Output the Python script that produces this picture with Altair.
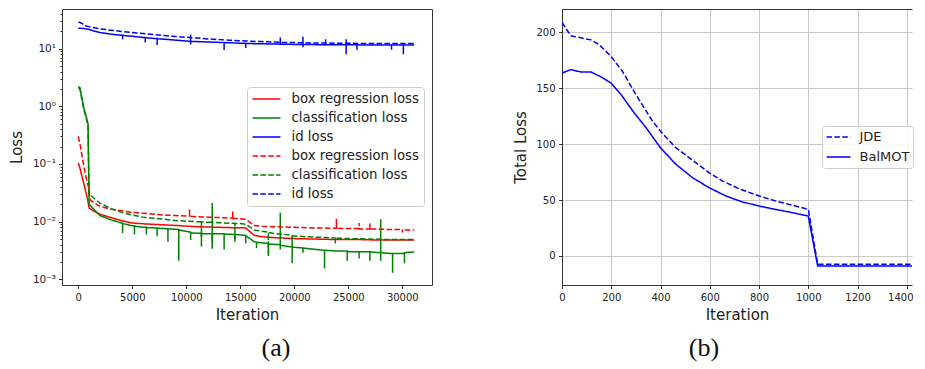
import altair as alt
import pandas as pd

# ---------------- panel (a): losses on a log scale ----------------
box_reg_solid = [(0, 0.104), (150, 0.085), (350, 0.06), (600, 0.039), (850, 0.025), (1000, 0.0173),
                 (1500, 0.015), (2000, 0.0135), (3000, 0.0118), (4000, 0.0104), (5000, 0.0095),
                 (6000, 0.0092), (7000, 0.009), (8000, 0.0088), (9000, 0.0086), (10000, 0.0084),
                 (11000, 0.0082), (12000, 0.0081), (13000, 0.008), (14000, 0.0079), (15500, 0.0078),
                 (16300, 0.0058), (17000, 0.0055), (18000, 0.0053), (19000, 0.0052), (20000, 0.0051),
                 (22000, 0.005), (24000, 0.0049), (26000, 0.0049), (28000, 0.0048), (30000, 0.0048),
                 (31100, 0.0048)]

cls_solid = [(0, 2.2), (150, 2.1), (300, 1.5), (500, 0.95), (700, 0.7), (900, 0.5), (1000, 0.02),
             (1500, 0.016), (2000, 0.0128), (3000, 0.0108), (4000, 0.0095), (4100, 0.0095), (4100, 0.0064),
             (4100, 0.0093), (5000, 0.0085), (5200, 0.0085), (5200, 0.006), (5200, 0.0084), (6000, 0.008),
             (6300, 0.008), (6300, 0.006), (6300, 0.0079), (7000, 0.0078), (7300, 0.0078), (7300, 0.0056),
             (7300, 0.0077), (8000, 0.0076), (8300, 0.0075), (8300, 0.0045), (8300, 0.0075), (9000, 0.0074),
             (9300, 0.0073), (9300, 0.0021), (9300, 0.0072), (10000, 0.0068), (10400, 0.0066), (10400, 0.0048),
             (10400, 0.0064), (11000, 0.0063), (11400, 0.0063), (11400, 0.0037), (11400, 0.0062),
             (12400, 0.0062), (12400, 0.0034), (12400, 0.0062), (13500, 0.0062), (13500, 0.0033),
             (13500, 0.0061), (14500, 0.006), (14500, 0.0045), (14500, 0.006), (15500, 0.0058),
             (15500, 0.0042), (15500, 0.0057), (16300, 0.0045), (16500, 0.0044), (16500, 0.0035),
             (16500, 0.0044), (17000, 0.0043), (17600, 0.0042), (17600, 0.0028), (17600, 0.0041),
             (18700, 0.004), (18700, 0.0143), (18700, 0.0033), (18700, 0.0039), (20000, 0.0036),
             (20800, 0.0035), (20800, 0.0029), (20800, 0.0035), (22000, 0.0033), (22800, 0.0032),
             (22800, 0.00155), (22800, 0.0032), (24000, 0.0031), (24900, 0.0031), (24900, 0.0021),
             (24900, 0.003), (26000, 0.003), (26000, 0.0023), (26000, 0.003), (27000, 0.003),
             (27000, 0.0021), (27000, 0.003), (28000, 0.0029), (28000, 0.011), (28000, 0.0021),
             (28000, 0.0029), (29100, 0.0028), (29100, 0.0013), (29100, 0.0028), (30200, 0.0028),
             (30200, 0.0019), (30200, 0.0029), (31100, 0.003)]

id_solid = [(0, 22.5), (500, 22.3), (1000, 21.5), (1500, 20), (2000, 19), (3000, 17.8), (4000, 17),
            (4100, 17), (4100, 14.5), (4100, 16.9), (5000, 16.3), (6000, 15.6), (6200, 15.5), (6200, 12.7),
            (6200, 15.4), (7000, 15), (7300, 14.9), (7300, 11.5), (7300, 14.8), (8000, 14.5), (9000, 14),
            (10000, 13.5), (10400, 13.4), (10400, 17.5), (10400, 11.8), (10400, 13.3), (11000, 13.2),
            (12000, 13), (13000, 12.8), (13500, 12.7), (13500, 9.4), (13500, 12.7), (14000, 12.6),
            (15000, 12.4), (15500, 12.4), (15500, 10.2), (15500, 12.3), (16000, 12.2), (17000, 12.1),
            (18000, 12), (18700, 12), (18700, 15.5), (18700, 11.9), (19000, 11.9), (20000, 11.8),
            (20800, 11.8), (20800, 16), (20800, 10.5), (20800, 11.8), (22000, 11.7), (22900, 11.7),
            (22900, 14.5), (22900, 11.7), (24000, 11.6), (24800, 11.6), (24800, 14.5), (24800, 8.0),
            (24800, 11.6), (25800, 11.6), (25800, 9.5), (25800, 11.6), (27000, 11.5), (28000, 11.5),
            (29000, 11.5), (29000, 9.5), (29000, 11.5), (30100, 11.5), (30100, 8.0), (30100, 11.5),
            (31100, 11.5)]

box_reg_dashed = [(0, 0.30), (200, 0.2), (400, 0.12), (600, 0.075), (800, 0.05), (950, 0.04), (1100, 0.024),
                  (1500, 0.021), (2000, 0.0185), (3000, 0.0165), (4000, 0.0155), (5000, 0.0145),
                  (6000, 0.014), (7000, 0.0135), (8000, 0.013), (9000, 0.0128), (10000, 0.0125),
                  (10300, 0.0125), (10300, 0.0165), (10300, 0.0124), (11000, 0.0122), (12000, 0.012),
                  (13000, 0.0118), (14300, 0.0115), (14300, 0.015), (14300, 0.0114), (15000, 0.0113),
                  (15500, 0.011), (16300, 0.0086), (17000, 0.0083), (18000, 0.0082), (20000, 0.008),
                  (22000, 0.0078), (23900, 0.0077), (23900, 0.0112), (23900, 0.0077), (25000, 0.0076),
                  (26000, 0.0076), (26000, 0.0095), (26000, 0.0075), (27000, 0.0075), (27000, 0.0093),
                  (27000, 0.0075), (28000, 0.0074), (29000, 0.0073), (30000, 0.0073), (30000, 0.0065),
                  (30000, 0.0072), (31100, 0.0072)]

cls_dashed = [(0, 2.1), (150, 2.0), (300, 1.4), (500, 0.9), (700, 0.65), (900, 0.45), (1000, 0.03),
              (1500, 0.025), (2000, 0.021), (3000, 0.017), (4000, 0.0145), (5000, 0.013), (6000, 0.012),
              (7000, 0.0115), (8000, 0.011), (9000, 0.0105), (10000, 0.0102), (11000, 0.01), (11400, 0.01),
              (11400, 0.0055), (11400, 0.0099), (12000, 0.0098), (12400, 0.0098), (12400, 0.021),
              (12400, 0.0045), (12400, 0.0097), (13000, 0.0096), (14000, 0.0094), (14500, 0.0094),
              (14500, 0.005), (14500, 0.0093), (15000, 0.0093), (15500, 0.009), (16300, 0.0072),
              (17000, 0.0068), (17600, 0.0066), (17600, 0.0025), (17600, 0.0065), (18000, 0.0063),
              (19000, 0.006), (19800, 0.0058), (19800, 0.0019), (19800, 0.0057), (21000, 0.0055),
              (22000, 0.0054), (23000, 0.0053), (23800, 0.0052), (23800, 0.0042), (23800, 0.0052),
              (25000, 0.0051), (27000, 0.005), (29000, 0.0049), (31100, 0.0049)]

id_dashed = [(0, 29), (300, 27.5), (600, 25), (1000, 24), (2000, 22), (3000, 20.8), (4000, 19.8), (5000, 19),
             (6000, 18.2), (7000, 17.5), (8000, 16.8), (9000, 16.2), (10000, 15.7), (11000, 15.2),
             (12000, 14.7), (13000, 14.3), (14000, 14), (15000, 13.7), (16000, 13.4), (17000, 13.2),
             (18000, 13), (19000, 12.8), (20000, 12.7), (22000, 12.5), (24000, 12.4), (26000, 12.3),
             (28000, 12.2), (31100, 12.2)]

series_keys = ["box_s", "cls_s", "id_s", "box_d", "cls_d", "id_d"]
series_labels = ["box regression loss", "classification loss", "id loss",
                 "box regression loss", "classification loss", "id loss"]
series_colors = ["#ff0000", "#008000", "#0000ff", "#ff0000", "#008000", "#0000ff"]
series_dashes = [[1, 0], [1, 0], [1, 0], [5.5, 2.4], [5.5, 2.4], [5.5, 2.4]]
series_points = [box_reg_solid, cls_solid, id_solid, box_reg_dashed, cls_dashed, id_dashed]

x_ticks_a = [0, 5000, 10000, 15000, 20000, 25000, 30000]
y_major_a = [0.001, 0.01, 0.1, 1, 10]
y_major_text = ["10⁻³", "10⁻²", "10⁻¹", "10⁰", "10¹"]
y_minor_a = [round(m * 10.0 ** e, 6) for e in range(-3, 2) for m in range(2, 10) if m * 10.0 ** e < 48]

# ---------------- panel (b): total loss ----------------
jde = [(0, 209), (36, 197), (80, 195), (118, 193.4), (151, 189), (199, 178.6), (246, 165), (300, 144.4),
       (368, 120.5), (400, 111.6), (463, 96.7), (517, 87.8), (598, 74.4), (652, 67), (720, 60),
       (801, 53.6), (870, 49), (923, 46.1), (1000, 41.7), (1038, -7.4), (1100, -7.4), (1200, -7.5),
       (1300, -7.5), (1400, -7.5), (1500, -7.5)]
balmot = [(0, 163.7), (36, 166.7), (77, 164.6), (118, 164.6), (155, 160.7), (199, 154.8), (240, 144.4),
          (288, 129.5), (342, 114.6), (400, 96.7), (463, 81.9), (531, 69.9), (598, 61), (666, 53.6),
          (730, 48.5), (801, 44.6), (870, 41.5), (923, 39.3), (1000, 35.7), (1038, -8.9), (1100, -8.9),
          (1200, -8.9), (1300, -8.9), (1400, -8.9), (1500, -8.9)]
models = ["JDE", "BalMOT"]
x_ticks_b = [0, 200, 400, 600, 800, 1000, 1200, 1400]
y_ticks_b = [0, 50, 100, 150, 200]

captions = ["(a)", "(b)"]

# ---------------- tables ----------------
frames = []
for key, pts in zip(series_keys, series_points):
    frames.append(pd.DataFrame({"iter": [p[0] for p in pts], "loss": [p[1] for p in pts],
                                "key": key, "seq": list(range(len(pts)))}))
dfa = pd.concat(frames, ignore_index=True)

dfb = pd.concat([
    pd.DataFrame({"iter": [p[0] for p in jde], "loss": [p[1] for p in jde], "model": "JDE"}),
    pd.DataFrame({"iter": [p[0] for p in balmot], "loss": [p[1] for p in balmot], "model": "BalMOT"}),
], ignore_index=True)

FONT = "DejaVu Sans"
INK = "#222222"
FRAME = "#333333"

legend_label_expr = " : ".join(
    f"datum.label == '{k}' ? '{l}'" for k, l in zip(series_keys, series_labels)) + " : datum.label"
y_label_expr = " : ".join(
    f"datum.value == {v} ? '{t}'" for v, t in zip(y_major_a, y_major_text)) + " : ''"
major_test = "indexof([" + ",".join(str(v) for v in y_major_a) + "], datum.value) >= 0"

legend_a = alt.Legend(
    title=None, orient="none", legendX=185, legendY=78, symbolType="stroke", symbolSize=784,
    symbolStrokeWidth=1.5, clipHeight=15, rowPadding=4, padding=4.5, labelOffset=10,
    labelFont=FONT, labelFontSize=13.3, labelColor=INK, labelExpr=legend_label_expr,
    fillColor="rgba(255,255,255,0.8)", strokeColor="#d0d0d0", cornerRadius=3,
)

lines_a = alt.Chart(dfa).mark_line(strokeWidth=1.5, clip=True).encode(
    x=alt.X("iter:Q", scale=alt.Scale(domain=[-1510, 32750], nice=False, zero=False),
            axis=alt.Axis(values=x_ticks_a, format="d", title="Iteration", domain=False, grid=False,
                          tickSize=3.5, labelPadding=3.5, titlePadding=5)),
    y=alt.Y("loss:Q", scale=alt.Scale(type="log", domain=[0.0008, 48.5], nice=False),
            axis=alt.Axis(values=y_major_a + y_minor_a, labelExpr=y_label_expr, title="Loss",
                          domain=False, grid=False, labelOverlap=False, labelPadding=3,
                          labelFontSize=10.5, titlePadding=8,
                          tickSize={"condition": {"test": major_test, "value": 3.5}, "value": 2})),
    color=alt.Color("key:N", scale=alt.Scale(domain=series_keys, range=series_colors), legend=legend_a),
    strokeDash=alt.StrokeDash("key:N", scale=alt.Scale(domain=series_keys, range=series_dashes),
                              legend=legend_a),
    order=alt.Order("seq:Q"),
)

cap_a = alt.Chart(pd.DataFrame({"cap": [captions[0]]})).mark_text(
    font="Liberation Serif", fontSize=26, baseline="middle", align="center", color="#111111"
).encode(x=alt.value(214), y=alt.value(339), text="cap:N")

panel_a = alt.layer(lines_a, cap_a).properties(width=370, height=276)

xscale_b = alt.Scale(domain=[0, 1421], nice=False, zero=False)
yscale_b = alt.Scale(domain=[-26, 221], nice=False, zero=False)

lines_b = alt.Chart(dfb).mark_line(color="#0000ff", strokeWidth=1.5, clip=True).encode(
    x=alt.X("iter:Q", scale=xscale_b,
            axis=alt.Axis(values=x_ticks_b, format="d", title="Iteration", grid=True, gridColor="#c8c8c8",
                          domain=True, domainColor=FRAME, tickSize=3.5, labelPadding=3.5, titlePadding=5,
                          labelOffset={"condition": {"test": "datum.value == 1400", "value": -6.5},
                                       "value": 0})),
    y=alt.Y("loss:Q", scale=yscale_b,
            axis=alt.Axis(values=y_ticks_b, title="Total Loss", grid=True, gridColor="#c8c8c8",
                          domain=True, domainColor=FRAME, tickSize=3.5, labelPadding=3.5, titlePadding=7)),
    strokeDash=alt.StrokeDash("model:N", scale=alt.Scale(domain=models, range=[[5.5, 2.4], [1, 0]]),
                              legend=alt.Legend(
                                  title=None, orient="none", legendX=260, legendY=117, symbolType="stroke",
                                  symbolSize=576, symbolStrokeWidth=1.5, symbolStrokeColor="#0000ff",
                                  clipHeight=15, rowPadding=5, padding=3.5, labelOffset=8, labelFont=FONT,
                                  labelFontSize=13, labelColor=INK, fillColor="rgba(255,255,255,0.8)",
                                  strokeColor="#d0d0d0", cornerRadius=3)),
)

top_frame_b = alt.Chart(dfb).mark_rule(opacity=0, clip=True).encode(
    x=alt.X("iter:Q", scale=xscale_b,
            axis=alt.Axis(orient="top", labels=False, ticks=False, grid=False, title=None,
                          domain=True, domainColor=FRAME)),
)

cap_b = alt.Chart(pd.DataFrame({"cap": [captions[1]]})).mark_text(
    font="Liberation Serif", fontSize=26, baseline="middle", align="center", color="#111111"
).encode(x=alt.value(142), y=alt.value(339), text="cap:N")

panel_b = alt.layer(lines_b, top_frame_b, cap_b).resolve_axis(x="independent").properties(
    width=350, height=276, view=alt.ViewBackground(stroke="transparent"))

chart = alt.hconcat(panel_a, panel_b, spacing=80).resolve_scale(
    color="independent", strokeDash="independent"
).resolve_legend(
    color="independent", strokeDash="independent"
).properties(
    padding={"left": 0, "top": 0, "right": 0, "bottom": 0}, background="white"
).configure_view(
    stroke=FRAME, strokeWidth=1
).configure_axis(
    labelFont=FONT, titleFont=FONT, labelFontSize=10, titleFontSize=15, titleFontWeight="normal",
    labelColor=INK, titleColor=INK, tickColor=FRAME, domainColor=FRAME, labelFlush=False,
    tickWidth=1, domainWidth=1, gridWidth=1
)

chart.save("out.html", embed_options={"renderer": "svg", "actions": False})
